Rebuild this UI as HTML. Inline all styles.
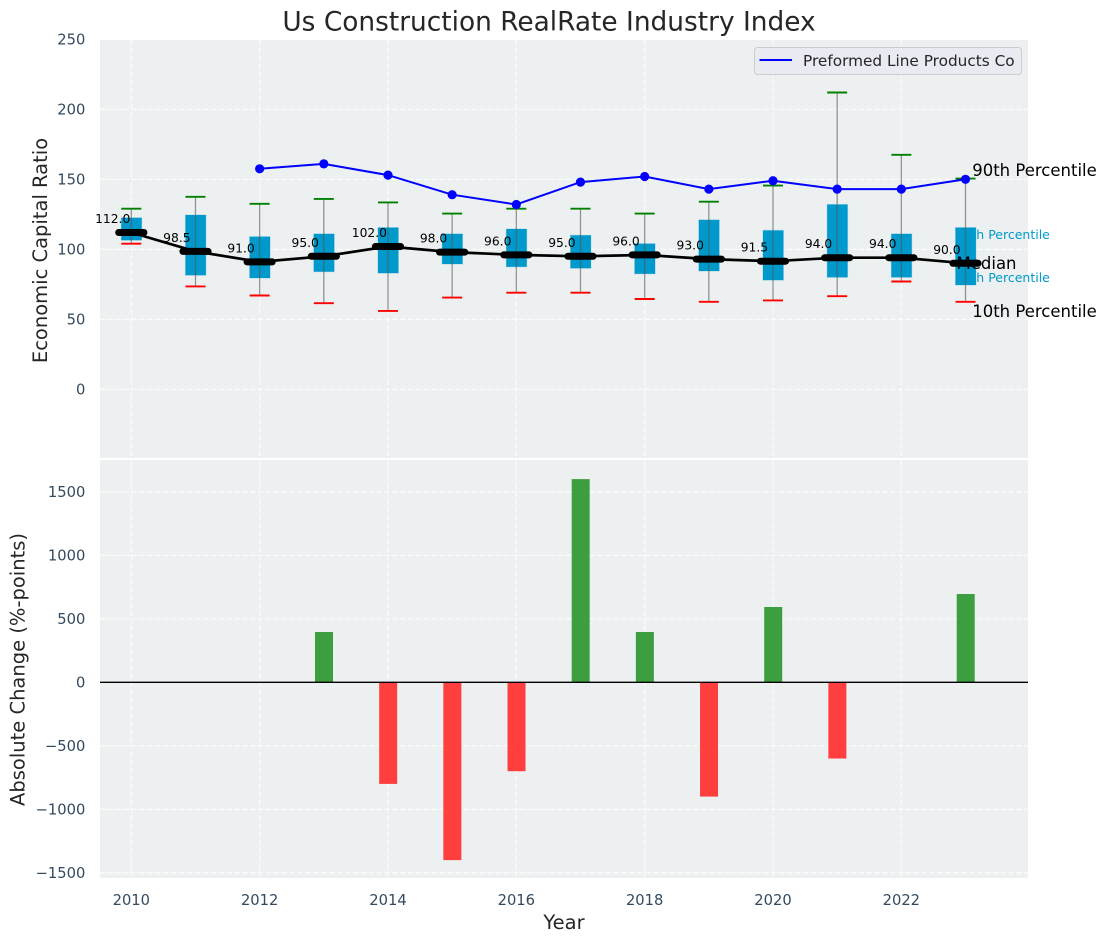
<!DOCTYPE html>
<html lang="en">
<head>
<meta charset="utf-8">
<title>Us Construction RealRate Industry Index</title>
<style>
html,body{margin:0;padding:0;background:#fff;width:1107px;height:942px;overflow:hidden}
svg{display:block}
text{font-family:"DejaVu Sans","Liberation Sans",sans-serif}
.tick{font-size:14.7px;fill:#34495e}
.axis-title{font-size:19.5px;fill:#262626}
</style>
</head>
<body>
<svg id="chart" xmlns="http://www.w3.org/2000/svg" width="1107" height="942" viewBox="0 0 1107 942">
  <rect x="0" y="0" width="1107" height="942" fill="#ffffff"/>
  <rect x="100" y="40" width="928" height="418" fill="#ecf0f1"/>
  <rect x="100" y="460" width="928" height="418" fill="#ecf0f1"/>
  <g id="grid"></g>
  <g id="ticks"></g>
  <g id="pct-labels"></g>
  <g id="distribution"></g>
  <g id="company"></g>
  <g id="median-text"></g>
  <g id="medians"></g>
  <g id="bars"></g>
  <line x1="100" x2="1028" y1="682.3" y2="682.3" stroke="#000" stroke-width="1.4"/>
  <text x="549" y="30.7" text-anchor="middle" font-size="26.4" fill="#262626">Us Construction RealRate Industry Index</text>
  <text class="axis-title" transform="translate(47 250.5) rotate(-90)" text-anchor="middle">Economic Capital Ratio</text>
  <text class="axis-title" transform="translate(24.5 669.5) rotate(-90)" text-anchor="middle">Absolute Change (%-points)</text>
  <text class="axis-title" x="564" y="929" text-anchor="middle">Year</text>
  <g>
    <rect x="754.5" y="47.5" width="267" height="27" rx="3" fill="#eaeaf2" fill-opacity="0.8" stroke="#cccccc"/>
    <line x1="759.5" x2="792" y1="60" y2="60" stroke="#0000ff" stroke-width="2"/>
    <text x="803" y="66" font-size="15.3" fill="#262626">Preformed Line Products Co</text>
  </g>
</svg>
<script>
const years = [2010,2011,2012,2013,2014,2015,2016,2017,2018,2019,2020,2021,2022,2023];
const p90 = [129,137.5,132.5,136,133.5,125.5,129,129,125.5,134,145.5,212,167.5,150.5];
const p75 = [122.5,124.5,109,111,115.5,111,114.5,110,104,121,113.5,132,111,115.5];
const median = [112,98.5,91,95,102,98,96,95,96,93,91.5,94,94,90];
const p25 = [106.5,81.5,79.5,84,83,89.5,87.5,86.5,82.5,84.5,78,80,80,74.5];
const p10 = [104,73.5,67,61.5,56,65.5,69,69,64.5,62.5,63.5,66.5,77,62.5];
const company = [null,null,157.5,161,153,139,132,148,152,143,149,143,143,150];
const change = [null,null,null,396,-800,-1400,-700,1600,396,-900,593,-600,null,695];
const xTicks = [2010,2012,2014,2016,2018,2020,2022];
const topYTicks = [0,50,100,150,200,250];
const bottomYTicks = [-1500,-1000,-500,0,500,1000,1500];

const NS = 'http://www.w3.org/2000/svg';
function xScale(v){ return 131.3 + (v - 2010) * 64.17; }
function yTop(v){ return 389.3 - v * 1.4; }
function yBottom(v){ return 682.3 - v * 0.127; }
function make(parentId, tag, attrs, content){
  const e = document.createElementNS(NS, tag);
  for (const k in attrs) e.setAttribute(k, attrs[k]);
  if (content !== undefined) e.textContent = content;
  document.getElementById(parentId).appendChild(e);
  return e;
}
const gridStyle = {stroke:'#ffffff','stroke-width':1.1,'stroke-dasharray':'5.5 2.4','stroke-opacity':0.85};
function fmtTick(v){ return v < 0 ? '\u2212' + Math.abs(v) : String(v); }

xTicks.forEach(function(t){
  const a = make('grid','line',Object.assign({x1:xScale(t),x2:xScale(t),y1:40,y2:458},gridStyle));
  
  
  const b = make('grid','line',Object.assign({x1:xScale(t),x2:xScale(t),y1:460,y2:878},gridStyle));
  
  
  const l = make('ticks','text',{class:'tick',x:xScale(t),y:905,'text-anchor':'middle'},String(t));
  
  
});
topYTicks.forEach(function(t){
  const a = make('grid','line',Object.assign({x1:100,x2:1028,y1:yTop(t),y2:yTop(t)},gridStyle));
  
  
  const l = make('ticks','text',{class:'tick',x:85.3,y:yTop(t)+5.3,'text-anchor':'end'},fmtTick(t));
  
  
});
bottomYTicks.forEach(function(t){
  const a = make('grid','line',Object.assign({x1:100,x2:1028,y1:yBottom(t),y2:yBottom(t)},gridStyle));
  
  
  const l = make('ticks','text',{class:'tick',x:85.3,y:yBottom(t)+5.3,'text-anchor':'end'},fmtTick(t));
  
  
});

const lastIndex = years.length - 1;
const lastX = xScale(years[lastIndex]);
const pctBelow = make('pct-labels','text',{x:lastX-10,y:yTop(p75[lastIndex])+11.5,'font-size':12.5,fill:'#0099cc'},'75th Percentile');


const pctLow = make('pct-labels','text',{x:lastX-10,y:yTop(p25[lastIndex])-3,'font-size':12.5,fill:'#0099cc'},'25th Percentile');


const pctTop = make('pct-labels','text',{x:lastX+6.7,y:yTop(p90[lastIndex])-2.5,'font-size':16.5,fill:'#000'},'90th Percentile');


const pctBottom = make('pct-labels','text',{x:lastX+6.7,y:yTop(p10[lastIndex])+15,'font-size':16.5,fill:'#000'},'10th Percentile');


const pctMid = make('median-text','text',{x:lastX-9,y:yTop(median[lastIndex])+5.5,'font-size':16.5,fill:'#000'},'Median');



years.forEach(function(yr,i){
  const x = xScale(yr);
  const box = make('distribution','rect',{x:x-10,y:yTop(p75[i]),width:20.4,height:yTop(p25[i])-yTop(p75[i]),fill:'#0099cc',stroke:'#0099cc','stroke-opacity':0.25,'stroke-width':1});
  
  
  const whisker = make('distribution','line',{x1:x,x2:x,y1:yTop(p90[i]),y2:yTop(p10[i]),stroke:'#555555','stroke-opacity':0.6,'stroke-width':1.3});
  
  
  const capHigh = make('distribution','line',{x1:x-10,x2:x+10,y1:yTop(p90[i]),y2:yTop(p90[i]),stroke:'#008000','stroke-width':1.9});
  
  
  const capLow = make('distribution','line',{x1:x-10,x2:x+10,y1:yTop(p10[i]),y2:yTop(p10[i]),stroke:'#ff0000','stroke-width':1.9});
  
  
});

const companyPts = [];
years.forEach(function(yr,i){ if (company[i] !== null) companyPts.push(xScale(yr)+','+yTop(company[i])); });
const companyLine = make('company','polyline',{points:companyPts.join(' '),fill:'none',stroke:'#0000ff','stroke-width':2});


years.forEach(function(yr,i){
  if (company[i] === null) return;
  const dot = make('company','circle',{cx:xScale(yr),cy:yTop(company[i]),r:4.6,fill:'#0000ff'});
  
  
});

const medianLine = make('medians','polyline',{points:years.map(function(yr,i){return xScale(yr)+','+yTop(median[i]);}).join(' '),fill:'none',stroke:'#000','stroke-width':2.7});


years.forEach(function(yr,i){
  const x = xScale(yr), y = yTop(median[i]);
  const bar = make('medians','line',{x1:x-12.6,x2:x+12.6,y1:y,y2:y,stroke:'#000','stroke-width':7,'stroke-linecap':'round'});
  
  
  const label = make('medians','text',{x:x-18.6,y:y-9.5,'text-anchor':'middle','font-size':12.3,fill:'#000'},median[i].toFixed(1));
  
  
});

years.forEach(function(yr,i){
  if (change[i] === null) return;
  const x = xScale(yr);
  const y0 = yBottom(0), y1 = yBottom(change[i]);
  const bar = make('bars','rect',{x:x-8.8,y:Math.min(y0,y1),width:18,height:Math.abs(y1-y0),fill:change[i] > 0 ? '#3d9e3f' : '#ff3e3e'});
  
  
});
</script>
</body>
</html>
